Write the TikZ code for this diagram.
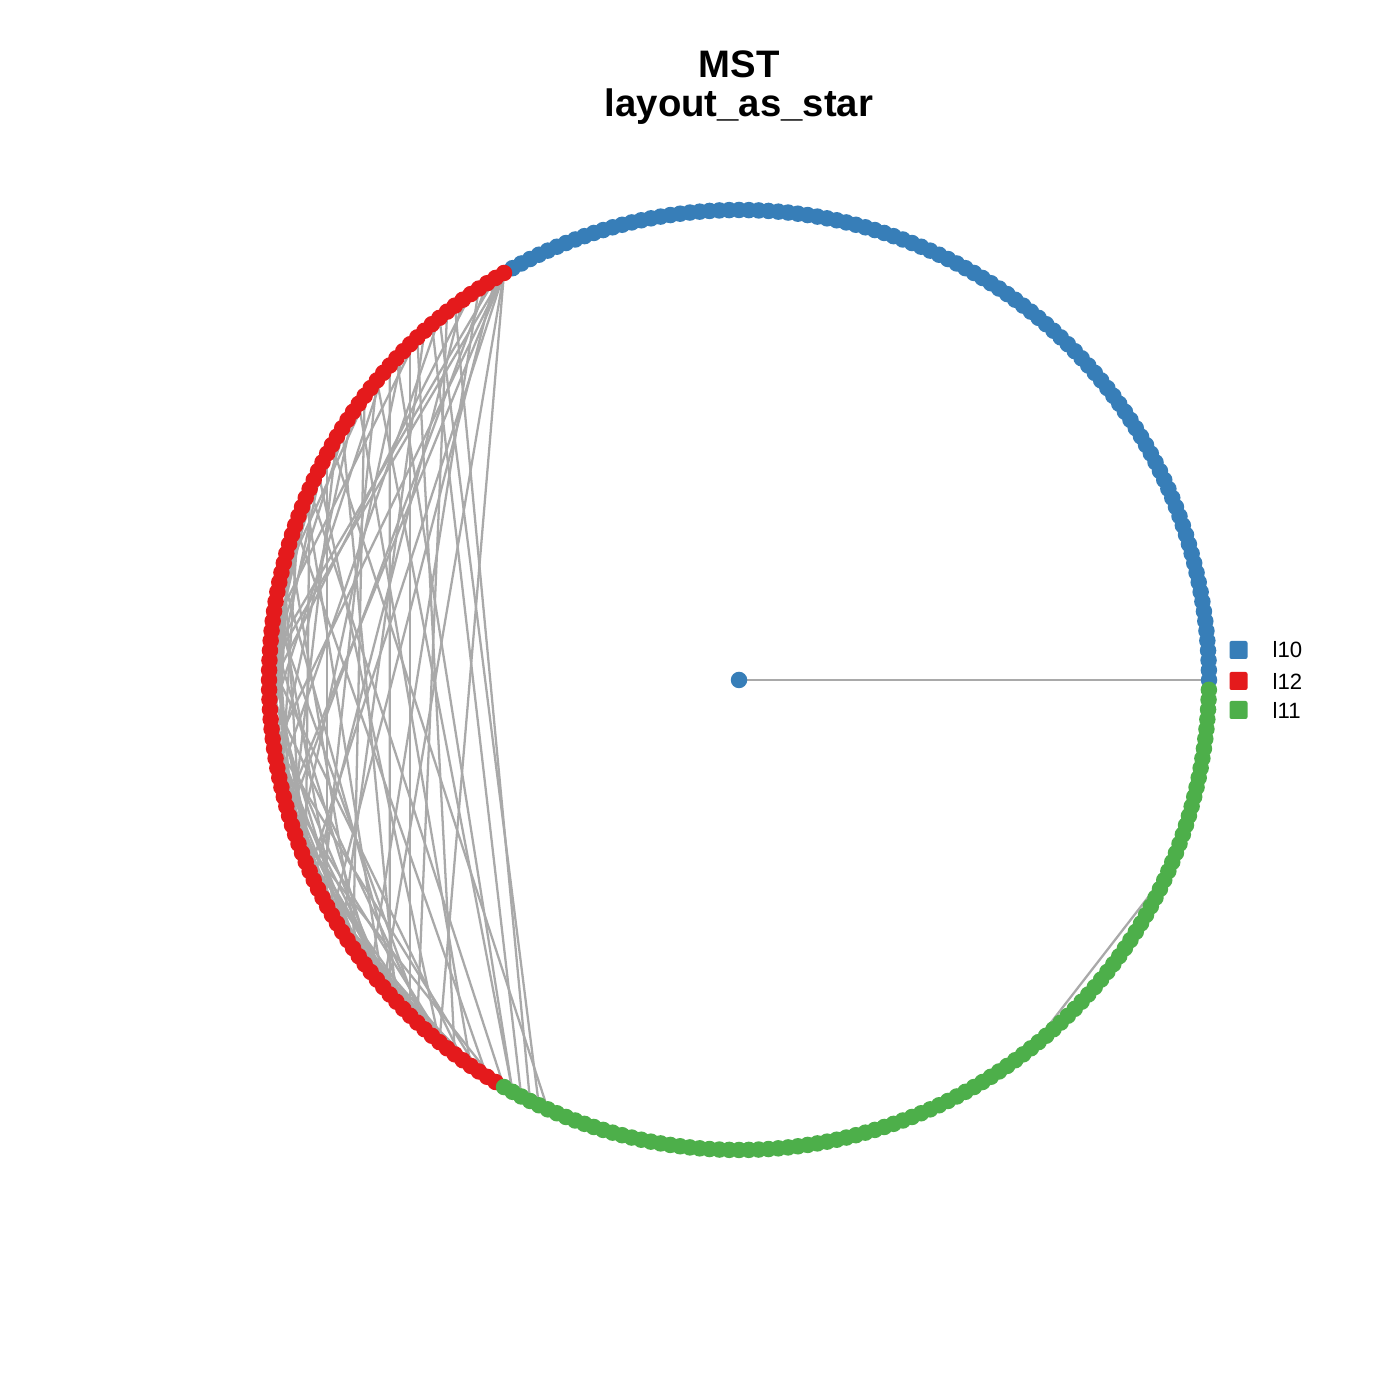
\documentclass[tikz,border=0pt]{standalone}
\usepackage{fontspec}
\setmainfont{Liberation Sans}
\usetikzlibrary{backgrounds}
\definecolor{cblue}{HTML}{377EB8}
\definecolor{cred}{HTML}{E41A1C}
\definecolor{cgreen}{HTML}{4DAF4A}
\definecolor{cedge}{HTML}{A9A9A9}
\begin{document}
\begin{tikzpicture}[vtx/.style={circle,inner sep=0pt,minimum size=1.65mm,fill=#1},
    key/.style={rectangle,inner sep=0pt,minimum size=1.8mm,fill=#1,rounded corners=0.2mm},
    lab/.style={anchor=west,inner sep=0pt,font=\fontsize{6.3}{7}\selectfont},
    edge/.style={cedge,line width=0.65pt}]
  \useasboundingbox (0,0) rectangle (14,14);
  \node[anchor=base,font=\bfseries\fontsize{10.9}{12}\selectfont] (t1) at (7.39,13.22) {MST};
  \node[anchor=base,font=\bfseries\fontsize{10.9}{12}\selectfont] (t2) at (7.39,12.83) {layout\_as\_star};
  \begin{scope}[shift={(7.39,7.20)}]
    \foreach \k in {1,...,100} \node[vtx=cblue] (v\k) at ({1.2*(\k-1)}:4.70) {};
    \foreach \k in {101,...,200} \node[vtx=cred] (v\k) at ({1.2*(\k-1)}:4.70) {};
    \foreach \k in {201,...,300} \node[vtx=cgreen] (v\k) at ({1.2*(\k-1)}:4.70) {};
    \node[vtx=cblue] (c) at (0,0) {};
  \end{scope}
  \begin{scope}[on background layer]
    \draw[edge] (c.center) -- (v1.center);
    \foreach \a/\b in {101/171,101/158,101/185,101/150,101/193,101/164,
        102/176,102/149,103/165,104/183,105/152,106/172,107/204,108/190,109/161,
        110/203,111/178,112/195,112/146,113/189,114/168,115/202,116/186,117/155,
        118/174,119/142,120/180,121/197,122/160,123/150,124/187,125/166,126/139,
        127/175,128/154,129/193,130/144,131/170,132/185,133/148,134/162,135/199,
        136/157,137/181,138/151,139/169,140/188,141/163,142/177,143/153,144/191,
        145/167,146/184,147/159,148/173,149/196,150/164,151/179,152/192,153/171,
        154/186,155/163,156/182,157/198,158/170,159/187,160/176,161/194,162/178,
        164/189,165/181,166/200,167/183,168/193,169/185,172/190,173/194,174/197,
        175/188,177/192,179/196,180/199,182/195,184/198,186/200,
        125/141,128/146,133/152,137/160,140/158,143/166,147/171,151/168,154/175,
        158/181,161/183,163/187,167/190,170/186,173/191,176/195,178/198,183/197,
        130/150,135/155,145/160,149/165,156/174,160/179,
        201/131,202/118,205/109,206/126,
        258/281,261/270}
      \draw[edge] (v\a.center) -- (v\b.center);
  \end{scope}
  \node[key=cblue] (k10) at (12.385,7.50) {};
  \node[key=cred] (k12) at (12.385,7.19) {};
  \node[key=cgreen] (k11) at (12.385,6.90) {};
  \node[lab] at (12.72,7.50) {l10};
  \node[lab] at (12.72,7.19) {l12};
  \node[lab] at (12.72,6.90) {l11};
\end{tikzpicture}
\end{document}
